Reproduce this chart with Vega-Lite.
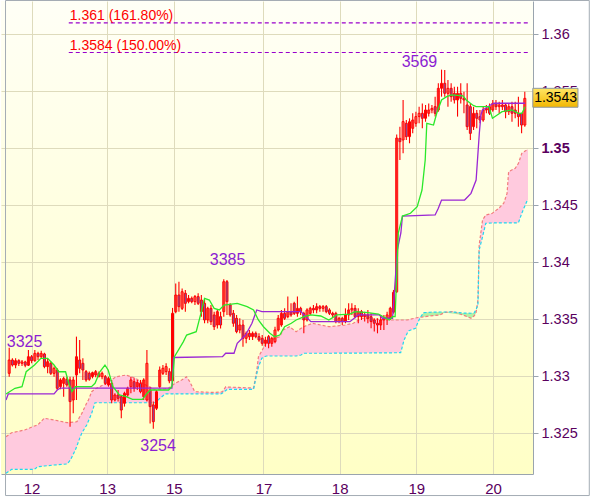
{
"$schema":"https://vega.github.io/schema/vega-lite/v6.json",
"width":532,"height":473,
"autosize":{"type":"none"},
"padding":{"left":1,"top":1,"right":67,"bottom":23},
"background":"#ffffff",
"config":{
 "view":{"stroke":null,"fill":{"gradient":"linear","x1":0,"y1":0,"x2":0,"y2":1,"stops":[{"offset":0,"color":"#fffff6"},{"offset":1,"color":"#ffffc6"}]}},
 "font":"Liberation Sans"
},
"datasets":{
"candles":[
{"i":1,"o":1.33026,"h":1.3325,"l":1.32997,"c":1.33143},
{"i":2,"o":1.33143,"h":1.33158,"l":1.33085,"c":1.33099},
{"i":3,"o":1.33099,"h":1.33158,"l":1.3307,"c":1.33137},
{"i":4,"o":1.33137,"h":1.33149,"l":1.33091,"c":1.33114},
{"i":5,"o":1.33114,"h":1.33143,"l":1.33091,"c":1.33126},
{"i":6,"o":1.33126,"h":1.33137,"l":1.33079,"c":1.33097},
{"i":7,"o":1.33097,"h":1.33231,"l":1.33091,"c":1.33172},
{"i":8,"o":1.33172,"h":1.33187,"l":1.33114,"c":1.33137},
{"i":9,"o":1.33137,"h":1.33231,"l":1.33128,"c":1.33201},
{"i":10,"o":1.33201,"h":1.33216,"l":1.33143,"c":1.33172},
{"i":11,"o":1.33172,"h":1.33225,"l":1.33158,"c":1.33201},
{"i":12,"o":1.33196,"h":1.33207,"l":1.3307,"c":1.33085},
{"i":13,"o":1.33085,"h":1.33158,"l":1.33026,"c":1.33128},
{"i":14,"o":1.33114,"h":1.33128,"l":1.33012,"c":1.33026},
{"i":15,"o":1.33026,"h":1.33085,"l":1.32997,"c":1.3307},
{"i":16,"o":1.33055,"h":1.3307,"l":1.3288,"c":1.32895},
{"i":17,"o":1.32909,"h":1.32982,"l":1.32886,"c":1.32968},
{"i":18,"o":1.32938,"h":1.32997,"l":1.32821,"c":1.32982},
{"i":19,"o":1.32974,"h":1.32997,"l":1.32909,"c":1.32924},
{"i":20,"o":1.32968,"h":1.32997,"l":1.32558,"c":1.32778},
{"i":21,"o":1.32792,"h":1.32997,"l":1.32675,"c":1.32968},
{"i":22,"o":1.33012,"h":1.33348,"l":1.32792,"c":1.33172},
{"i":23,"o":1.33143,"h":1.33318,"l":1.33026,"c":1.3307},
{"i":24,"o":1.33114,"h":1.33158,"l":1.32968,"c":1.33055},
{"i":25,"o":1.33041,"h":1.33055,"l":1.32953,"c":1.32968},
{"i":26,"o":1.33026,"h":1.33041,"l":1.32962,"c":1.32974},
{"i":27,"o":1.32997,"h":1.33041,"l":1.32982,"c":1.33032},
{"i":28,"o":1.33012,"h":1.33055,"l":1.32991,"c":1.33041},
{"i":29,"o":1.33026,"h":1.33041,"l":1.32991,"c":1.32997},
{"i":30,"o":1.32997,"h":1.33041,"l":1.32974,"c":1.33026},
{"i":31,"o":1.32997,"h":1.33012,"l":1.32924,"c":1.32938},
{"i":32,"o":1.32924,"h":1.32997,"l":1.32909,"c":1.32982},
{"i":33,"o":1.32938,"h":1.32968,"l":1.32763,"c":1.32792},
{"i":34,"o":1.32792,"h":1.32851,"l":1.32778,"c":1.32836},
{"i":35,"o":1.32836,"h":1.3288,"l":1.32778,"c":1.32807},
{"i":36,"o":1.32821,"h":1.32836,"l":1.32632,"c":1.32704},
{"i":37,"o":1.32763,"h":1.32865,"l":1.32734,"c":1.32851},
{"i":38,"o":1.32836,"h":1.32909,"l":1.32821,"c":1.32895},
{"i":39,"o":1.32909,"h":1.32997,"l":1.32851,"c":1.32968},
{"i":40,"o":1.32953,"h":1.32982,"l":1.32865,"c":1.32895},
{"i":41,"o":1.32909,"h":1.32968,"l":1.3288,"c":1.32945},
{"i":42,"o":1.32938,"h":1.32968,"l":1.32851,"c":1.32865},
{"i":43,"o":1.32821,"h":1.32982,"l":1.32792,"c":1.32968},
{"i":44,"o":1.32792,"h":1.33231,"l":1.32778,"c":1.33114},
{"i":45,"o":1.3288,"h":1.32909,"l":1.32587,"c":1.32734},
{"i":46,"o":1.32749,"h":1.32778,"l":1.3254,"c":1.32602},
{"i":47,"o":1.32719,"h":1.3288,"l":1.32704,"c":1.32865},
{"i":48,"o":1.32909,"h":1.33085,"l":1.32895,"c":1.33055},
{"i":49,"o":1.33026,"h":1.33099,"l":1.33012,"c":1.3307},
{"i":50,"o":1.33041,"h":1.33114,"l":1.33012,"c":1.33085},
{"i":51,"o":1.33041,"h":1.3307,"l":1.3294,"c":1.3296},
{"i":52,"o":1.3296,"h":1.336,"l":1.3293,"c":1.33553},
{"i":53,"o":1.33567,"h":1.33815,"l":1.33552,"c":1.33713},
{"i":54,"o":1.33713,"h":1.3383,"l":1.33567,"c":1.33611},
{"i":55,"o":1.33596,"h":1.33771,"l":1.33582,"c":1.33742},
{"i":56,"o":1.33728,"h":1.33757,"l":1.33567,"c":1.3364},
{"i":57,"o":1.33655,"h":1.33713,"l":1.3364,"c":1.33684},
{"i":58,"o":1.33684,"h":1.33699,"l":1.3364,"c":1.33655},
{"i":59,"o":1.33655,"h":1.33713,"l":1.33626,"c":1.33699},
{"i":60,"o":1.33699,"h":1.33728,"l":1.33626,"c":1.3364},
{"i":61,"o":1.33669,"h":1.33713,"l":1.33523,"c":1.33567},
{"i":62,"o":1.3364,"h":1.33684,"l":1.33465,"c":1.33494},
{"i":63,"o":1.33494,"h":1.33611,"l":1.33465,"c":1.33596},
{"i":64,"o":1.33596,"h":1.33626,"l":1.3345,"c":1.33479},
{"i":65,"o":1.33538,"h":1.33567,"l":1.33406,"c":1.33435},
{"i":66,"o":1.3345,"h":1.33582,"l":1.3342,"c":1.33567},
{"i":67,"o":1.33523,"h":1.33567,"l":1.3342,"c":1.3345},
{"i":68,"o":1.33567,"h":1.33852,"l":1.33523,"c":1.3383},
{"i":69,"o":1.3383,"h":1.33845,"l":1.33538,"c":1.33655},
{"i":70,"o":1.33626,"h":1.3364,"l":1.33523,"c":1.33538},
{"i":71,"o":1.33552,"h":1.33582,"l":1.33435,"c":1.33465},
{"i":72,"o":1.33509,"h":1.33538,"l":1.33377,"c":1.33392},
{"i":73,"o":1.33406,"h":1.33509,"l":1.33377,"c":1.3345},
{"i":74,"o":1.3345,"h":1.33494,"l":1.3326,"c":1.33333},
{"i":75,"o":1.33333,"h":1.33392,"l":1.33289,"c":1.33377},
{"i":76,"o":1.33377,"h":1.33406,"l":1.33318,"c":1.33348},
{"i":77,"o":1.33348,"h":1.33392,"l":1.33318,"c":1.33377},
{"i":78,"o":1.33377,"h":1.33392,"l":1.33333,"c":1.33348},
{"i":79,"o":1.33348,"h":1.33377,"l":1.33304,"c":1.33318},
{"i":80,"o":1.33333,"h":1.33362,"l":1.33267,"c":1.33289},
{"i":81,"o":1.33289,"h":1.33348,"l":1.3326,"c":1.33318},
{"i":82,"o":1.33348,"h":1.33362,"l":1.33245,"c":1.33289},
{"i":83,"o":1.33289,"h":1.33348,"l":1.3326,"c":1.33333},
{"i":84,"o":1.33304,"h":1.33435,"l":1.33289,"c":1.33406},
{"i":85,"o":1.33406,"h":1.33538,"l":1.33392,"c":1.33509},
{"i":86,"o":1.3345,"h":1.33582,"l":1.33435,"c":1.33552},
{"i":87,"o":1.33552,"h":1.33596,"l":1.33494,"c":1.33509},
{"i":88,"o":1.33523,"h":1.33699,"l":1.33509,"c":1.33567},
{"i":89,"o":1.33567,"h":1.3364,"l":1.33523,"c":1.33538},
{"i":90,"o":1.3364,"h":1.33655,"l":1.33538,"c":1.33552},
{"i":91,"o":1.33552,"h":1.33699,"l":1.33523,"c":1.33596},
{"i":92,"o":1.33596,"h":1.33611,"l":1.33538,"c":1.33567},
{"i":93,"o":1.33552,"h":1.33567,"l":1.33377,"c":1.33494},
{"i":94,"o":1.33494,"h":1.33596,"l":1.3348,"c":1.33582},
{"i":95,"o":1.33552,"h":1.33611,"l":1.33538,"c":1.33596},
{"i":96,"o":1.33596,"h":1.33626,"l":1.33552,"c":1.33582},
{"i":97,"o":1.33582,"h":1.3364,"l":1.33552,"c":1.33611},
{"i":98,"o":1.33611,"h":1.33626,"l":1.33567,"c":1.33596},
{"i":99,"o":1.33596,"h":1.33626,"l":1.33567,"c":1.33611},
{"i":100,"o":1.33611,"h":1.33626,"l":1.33552,"c":1.33567},
{"i":101,"o":1.33582,"h":1.33596,"l":1.33538,"c":1.33552},
{"i":102,"o":1.33552,"h":1.33567,"l":1.33509,"c":1.33538},
{"i":103,"o":1.33552,"h":1.33567,"l":1.33465,"c":1.3348},
{"i":104,"o":1.3348,"h":1.33523,"l":1.33465,"c":1.33509},
{"i":105,"o":1.33509,"h":1.33523,"l":1.3345,"c":1.3348},
{"i":106,"o":1.3348,"h":1.33596,"l":1.33465,"c":1.33538},
{"i":107,"o":1.33538,"h":1.3364,"l":1.33494,"c":1.33582},
{"i":108,"o":1.33582,"h":1.3364,"l":1.33538,"c":1.33596},
{"i":109,"o":1.33596,"h":1.33626,"l":1.33509,"c":1.33523},
{"i":110,"o":1.33523,"h":1.33596,"l":1.33465,"c":1.33567},
{"i":111,"o":1.33567,"h":1.33582,"l":1.33494,"c":1.33523},
{"i":112,"o":1.33523,"h":1.33567,"l":1.3348,"c":1.33538},
{"i":113,"o":1.33538,"h":1.33582,"l":1.33465,"c":1.33509},
{"i":114,"o":1.33523,"h":1.33552,"l":1.33421,"c":1.3348},
{"i":115,"o":1.33494,"h":1.33509,"l":1.33392,"c":1.33465},
{"i":116,"o":1.33465,"h":1.33509,"l":1.33377,"c":1.3345},
{"i":117,"o":1.3345,"h":1.33538,"l":1.33406,"c":1.33494},
{"i":118,"o":1.33494,"h":1.33538,"l":1.33406,"c":1.33509},
{"i":119,"o":1.33509,"h":1.33567,"l":1.3345,"c":1.33538},
{"i":120,"o":1.33509,"h":1.33611,"l":1.33494,"c":1.33597},
{"i":121,"o":1.33562,"h":1.33757,"l":1.3355,"c":1.33737},
{"i":122,"o":1.33742,"h":1.3512,"l":1.3373,"c":1.3509},
{"i":123,"o":1.35087,"h":1.3519,"l":1.34897,"c":1.35058},
{"i":124,"o":1.35073,"h":1.35424,"l":1.34956,"c":1.35234},
{"i":125,"o":1.35219,"h":1.35248,"l":1.35073,"c":1.35102},
{"i":126,"o":1.35102,"h":1.35263,"l":1.35044,"c":1.35233},
{"i":127,"o":1.35175,"h":1.35307,"l":1.35131,"c":1.35248},
{"i":128,"o":1.35219,"h":1.35321,"l":1.3519,"c":1.35278},
{"i":129,"o":1.35278,"h":1.35365,"l":1.35219,"c":1.35307},
{"i":130,"o":1.35307,"h":1.35394,"l":1.35175,"c":1.35263},
{"i":131,"o":1.35263,"h":1.3538,"l":1.35233,"c":1.35336},
{"i":132,"o":1.35307,"h":1.35394,"l":1.35278,"c":1.35336},
{"i":133,"o":1.35336,"h":1.3538,"l":1.35307,"c":1.3535},
{"i":134,"o":1.35365,"h":1.35453,"l":1.35278,"c":1.35307},
{"i":135,"o":1.35336,"h":1.3557,"l":1.35321,"c":1.35526},
{"i":136,"o":1.35526,"h":1.3569,"l":1.35453,"c":1.3557},
{"i":137,"o":1.3557,"h":1.35687,"l":1.35453,"c":1.35482},
{"i":138,"o":1.35482,"h":1.35599,"l":1.35365,"c":1.35526},
{"i":139,"o":1.35526,"h":1.3557,"l":1.35409,"c":1.35453},
{"i":140,"o":1.35482,"h":1.3554,"l":1.35394,"c":1.35424},
{"i":141,"o":1.35424,"h":1.3554,"l":1.35278,"c":1.35482},
{"i":142,"o":1.35482,"h":1.3557,"l":1.35394,"c":1.35438},
{"i":143,"o":1.35438,"h":1.35497,"l":1.35307,"c":1.35424},
{"i":144,"o":1.3538,"h":1.3557,"l":1.3516,"c":1.3519},
{"i":145,"o":1.35365,"h":1.35394,"l":1.35073,"c":1.35131},
{"i":146,"o":1.3519,"h":1.35365,"l":1.3516,"c":1.35307},
{"i":147,"o":1.35307,"h":1.35336,"l":1.35175,"c":1.35263},
{"i":148,"o":1.35278,"h":1.35336,"l":1.35219,"c":1.35248},
{"i":149,"o":1.35248,"h":1.35365,"l":1.35233,"c":1.35336},
{"i":150,"o":1.35336,"h":1.3538,"l":1.35307,"c":1.3535},
{"i":151,"o":1.35365,"h":1.35394,"l":1.35292,"c":1.35307},
{"i":152,"o":1.35336,"h":1.35424,"l":1.35321,"c":1.35394},
{"i":153,"o":1.35394,"h":1.35424,"l":1.35336,"c":1.35365},
{"i":154,"o":1.35365,"h":1.35409,"l":1.35307,"c":1.3538},
{"i":155,"o":1.3538,"h":1.35424,"l":1.35336,"c":1.35365},
{"i":156,"o":1.3538,"h":1.35394,"l":1.35263,"c":1.35321},
{"i":157,"o":1.35321,"h":1.35394,"l":1.35292,"c":1.35365},
{"i":158,"o":1.35365,"h":1.35409,"l":1.35233,"c":1.35307},
{"i":159,"o":1.35336,"h":1.35409,"l":1.35263,"c":1.35307},
{"i":160,"o":1.35307,"h":1.35453,"l":1.3519,"c":1.35278},
{"i":161,"o":1.35307,"h":1.35307,"l":1.35131,"c":1.35204},
{"i":162,"o":1.35204,"h":1.35497,"l":1.3519,"c":1.35438}
],
"tenkan":[
{"i":0,"p":1.32845},{"i":2.8,"p":1.32895},{"i":5,"p":1.32909},{"i":6.3,"p":1.3304},{"i":8.9,"p":1.33099},{"i":10.9,"p":1.33158},{"i":13,"p":1.33158},{"i":15,"p":1.33099},{"i":16.5,"p":1.3304},{"i":18.6,"p":1.3304},{"i":19.6,"p":1.32939},{"i":20.6,"p":1.32865},{"i":21.7,"p":1.32909},{"i":26.7,"p":1.32909},{"i":27.8,"p":1.32939},{"i":29.3,"p":1.3304},{"i":30.9,"p":1.33099},{"i":31.9,"p":1.33055},{"i":33.4,"p":1.32909},{"i":35.4,"p":1.32836},{"i":37.5,"p":1.32821},{"i":39.5,"p":1.32798},{"i":42.6,"p":1.32798},{"i":44.1,"p":1.32851},{"i":45.1,"p":1.3288},{"i":50.8,"p":1.3288},{"i":51.8,"p":1.32909},{"i":52.6,"p":1.33172},{"i":55.4,"p":1.33304},{"i":56.4,"p":1.33362},{"i":59.4,"p":1.33391},{"i":61,"p":1.33567},{"i":62,"p":1.33684},{"i":63.5,"p":1.33669},{"i":65,"p":1.33596},{"i":66.6,"p":1.33582},{"i":68.1,"p":1.33625},{"i":72.2,"p":1.3364},{"i":75.3,"p":1.33611},{"i":77.3,"p":1.33582},{"i":78.8,"p":1.33494},{"i":80.4,"p":1.33435},{"i":82.4,"p":1.33377},{"i":83.9,"p":1.33347},{"i":85.5,"p":1.33362},{"i":87,"p":1.33435},{"i":89.1,"p":1.33465},{"i":90.6,"p":1.33494},{"i":93.1,"p":1.33523},{"i":95.2,"p":1.33538},{"i":98.3,"p":1.33529},{"i":100.8,"p":1.33494},{"i":103.3,"p":1.33538},{"i":107.4,"p":1.33546},{"i":109,"p":1.33567},{"i":113,"p":1.33558},{"i":116.3,"p":1.33546},{"i":119.7,"p":1.33494},{"i":120.7,"p":1.33523},{"i":121.5,"p":1.33523},{"i":122.5,"p":1.34257},{"i":123.8,"p":1.34406},{"i":126.3,"p":1.3443},{"i":128.4,"p":1.34488},{"i":129.9,"p":1.34634},{"i":130.9,"p":1.34897},{"i":131.4,"p":1.35219},{"i":133.5,"p":1.35204},{"i":134.5,"p":1.35307},{"i":136,"p":1.35424},{"i":137.6,"p":1.35453},{"i":139.1,"p":1.35468},{"i":142.7,"p":1.35459},{"i":143.7,"p":1.35424},{"i":145.7,"p":1.3538},{"i":146.8,"p":1.35365},{"i":150.8,"p":1.35365},{"i":151.9,"p":1.35263},{"i":153.4,"p":1.35292},{"i":154.9,"p":1.35321},{"i":158,"p":1.35336},{"i":160,"p":1.35307},{"i":161.1,"p":1.35307},{"i":162.1,"p":1.35365}
],
"kijun":[
{"i":0,"p":1.32792},{"i":0.7,"p":1.32845},{"i":15,"p":1.32845},{"i":16,"p":1.3288},{"i":17,"p":1.32897},{"i":51.8,"p":1.32897},{"i":52.3,"p":1.33165},{"i":67.6,"p":1.33172},{"i":68.6,"p":1.33202},{"i":71.2,"p":1.33202},{"i":72.2,"p":1.33289},{"i":74.8,"p":1.33362},{"i":76.8,"p":1.33465},{"i":78.3,"p":1.33582},{"i":79.9,"p":1.33567},{"i":92.1,"p":1.33567},{"i":93.1,"p":1.33538},{"i":95.2,"p":1.33479},{"i":107.4,"p":1.33479},{"i":110,"p":1.33538},{"i":116.6,"p":1.33538},{"i":117.6,"p":1.33509},{"i":120.7,"p":1.33509},{"i":122.2,"p":1.34108},{"i":123.3,"p":1.34257},{"i":123.8,"p":1.34406},{"i":134,"p":1.34415},{"i":135,"p":1.34474},{"i":136,"p":1.34546},{"i":143.2,"p":1.34546},{"i":145.2,"p":1.34605},{"i":146.8,"p":1.34722},{"i":147.8,"p":1.35132},{"i":148.3,"p":1.35292},{"i":148.8,"p":1.35336},{"i":149.8,"p":1.35351},{"i":151.3,"p":1.3538},{"i":152.4,"p":1.35395},{"i":162.1,"p":1.35395}
],
"kumo":[
{"i":0,"a":1.3247,"b":1.32149},{"i":1.75,"a":1.32505,"b":1.32184},{"i":5.82,"a":1.32529,"b":1.32184},{"i":8.88,"a":1.32564,"b":1.32184},{"i":9.9,"a":1.32573,"b":1.32207},{"i":11.95,"a":1.32632,"b":1.32213},{"i":15.01,"a":1.32617,"b":1.32222},{"i":19.09,"a":1.32593,"b":1.32231},{"i":20.13,"a":1.32595,"b":1.32266},{"i":21.66,"a":1.32599,"b":1.32354},{"i":22.15,"a":1.32602,"b":1.32389},{"i":23.19,"a":1.32652,"b":1.3247},{"i":23.68,"a":1.32675,"b":1.32503},{"i":25.21,"a":1.32766,"b":1.32573},{"i":25.74,"a":1.32792,"b":1.32608},{"i":26.75,"a":1.32865,"b":1.32675},{"i":27.79,"a":1.32889,"b":1.32768},{"i":29.32,"a":1.32909,"b":1.32768},{"i":31.34,"a":1.32939,"b":1.32768},{"i":34.41,"a":1.32996,"b":1.32768},{"i":37.47,"a":1.33011,"b":1.32768},{"i":40.53,"a":1.32982,"b":1.32768},{"i":42.59,"a":1.32939,"b":1.32768},{"i":46.66,"a":1.3288,"b":1.32768},{"i":47.7,"a":1.32884,"b":1.32798},{"i":49.72,"a":1.32889,"b":1.32845},{"i":50.77,"a":1.32895,"b":1.32845},{"i":52.79,"a":1.32939,"b":1.32845},{"i":54.84,"a":1.32967,"b":1.32845},{"i":56.37,"a":1.32996,"b":1.32845},{"i":57.38,"a":1.32953,"b":1.32845},{"i":58.92,"a":1.32865,"b":1.32845},{"i":65.04,"a":1.32858,"b":1.32845},{"i":67.1,"a":1.32862,"b":1.32845},{"i":67.62,"a":1.32865,"b":1.32854},{"i":68.63,"a":1.32909,"b":1.32875},{"i":69.15,"a":1.32906,"b":1.32886},{"i":77.3,"a":1.32897,"b":1.32886},{"i":78.34,"a":1.33055,"b":1.33026},{"i":78.83,"a":1.33172,"b":1.33082},{"i":79.87,"a":1.33222,"b":1.33158},{"i":80.88,"a":1.33275,"b":1.33174},{"i":81.4,"a":1.33292,"b":1.33178},{"i":83.95,"a":1.33333,"b":1.33178},{"i":85.48,"a":1.33347,"b":1.33178},{"i":86.49,"a":1.33406,"b":1.33178},{"i":88.54,"a":1.33435,"b":1.33178},{"i":90.59,"a":1.33391,"b":1.33178},{"i":92.13,"a":1.33421,"b":1.33187},{"i":93.14,"a":1.33437,"b":1.33202},{"i":95.68,"a":1.33465,"b":1.33202},{"i":98.25,"a":1.3345,"b":1.33202},{"i":100.8,"a":1.33435,"b":1.33202},{"i":105.91,"a":1.3345,"b":1.33204},{"i":108.46,"a":1.33465,"b":1.33204},{"i":111,"a":1.33509,"b":1.33204},{"i":119.18,"a":1.33494,"b":1.33206},{"i":123.25,"a":1.33494,"b":1.33207},{"i":124.3,"a":1.33494,"b":1.33318},{"i":125.31,"a":1.33494,"b":1.3338},{"i":125.83,"a":1.33498,"b":1.334},{"i":127.85,"a":1.33511,"b":1.33421},{"i":128.68,"a":1.33516,"b":1.33476},{"i":129.38,"a":1.33518,"b":1.33518},{"i":130.42,"a":1.33522,"b":1.33558},{"i":132.44,"a":1.33529,"b":1.33562},{"i":135.51,"a":1.33538,"b":1.33564},{"i":136.95,"a":1.3356,"b":1.33564},{"i":139.61,"a":1.33568,"b":1.33564},{"i":142.67,"a":1.33538,"b":1.33555},{"i":145.22,"a":1.33509,"b":1.33553},{"i":146.14,"a":1.33529,"b":1.33555},{"i":146.75,"a":1.33553,"b":1.33582},{"i":147.37,"a":1.33669,"b":1.33625},{"i":147.76,"a":1.34152,"b":1.34108},{"i":148.81,"a":1.34371,"b":1.34225},{"i":149.82,"a":1.34415,"b":1.34342},{"i":151.87,"a":1.3443,"b":1.34345},{"i":153.89,"a":1.34474,"b":1.34345},{"i":155.42,"a":1.34518,"b":1.34345},{"i":156.46,"a":1.34605,"b":1.34345},{"i":156.95,"a":1.34795,"b":1.34345},{"i":159.01,"a":1.34825,"b":1.34345},{"i":160.02,"a":1.34868,"b":1.34347},{"i":161.06,"a":1.34956,"b":1.3443},{"i":162.59,"a":1.34985,"b":1.34532},{"i":163,"a":1.34994,"b":1.34546}
],
"fibo":[
{"from":19.6,"level":1.361,"label":"1.361 (161.80%)"},
{"from":19.6,"level":1.3584,"label":"1.3584 (150.00%)"}
],
"swings":[
{"i":5.8,"p":1.3326,"label":"3325"},
{"i":69.2,"p":1.33976,"label":"3385"},
{"i":47.5,"p":1.32347,"label":"3254"},
{"i":129.1,"p":1.35716,"label":"3569"}
]
},
"layer":[
{"data":{"name":"kumo"},
 "mark":{"type":"area","fill":"#ffcade","opacity":1},
 "encoding":{
  "x":{"field":"i","type":"quantitative","scale":{"domain":[0,163],"nice":false,"zero":false},
   "axis":{"title":null,"values":[8,31.6,52.4,80.4,104.2,128.1,152.1],
    "labelExpr":"datum.value < 20 ? '12' : datum.value < 40 ? '13' : datum.value < 60 ? '15' : datum.value < 90 ? '17' : datum.value < 110 ? '18' : datum.value < 140 ? '19' : '20'",
    "grid":true,"gridColor":"#dedbbc","ticks":false,"domainColor":"#9aa4ae","labelColor":"#5a005e","labelFontSize":15,"labelPadding":7,"labelFlush":false,"labelOverlap":false}},
  "y":{"field":"a","type":"quantitative","scale":{"domain":[1.32143,1.36292],"nice":false,"zero":false},
   "axis":{"title":null,"orient":"right","values":[1.325,1.33,1.335,1.34,1.345,1.35,1.355,1.36],"format":".3~f",
    "grid":true,"gridColor":"#dedbbc","tickSize":5,"tickColor":"#9aa4ae","domainColor":"#9aa4ae","labelColor":"#5a005e","labelFontSize":14.5,"labelPadding":3,"labelOverlap":false,"labelFlush":false,
    "labelFontWeight":{"condition":{"test":"abs(datum.value-1.35)<0.0001","value":"bold"},"value":"normal"}}},
  "y2":{"field":"b"}
 }},
{"data":{"name":"kumo"},
 "transform":[{"filter":"datum.b >= datum.a"}],
 "mark":{"type":"area","fill":"#b2f2a4"},
 "encoding":{"x":{"field":"i","type":"quantitative"},"y":{"field":"a","type":"quantitative"},"y2":{"field":"b"}}},
{"data":{"name":"kumo"},
 "mark":{"type":"line","stroke":"#f27c7c","strokeWidth":1.2,"strokeDash":[3,2]},
 "encoding":{"x":{"field":"i","type":"quantitative"},"y":{"field":"a","type":"quantitative"}}},
{"data":{"name":"kumo"},
 "mark":{"type":"line","stroke":"#1ed8f0","strokeWidth":1.2,"strokeDash":[3,2]},
 "encoding":{"x":{"field":"i","type":"quantitative"},"y":{"field":"b","type":"quantitative"}}},
{"data":{"name":"candles"},
 "mark":{"type":"rule","stroke":"#ff0000","strokeWidth":1.1},
 "encoding":{"x":{"field":"i","type":"quantitative"},"y":{"field":"l","type":"quantitative"},"y2":{"field":"h"}}},
{"data":{"name":"candles"},
 "mark":{"type":"bar","size":2,"stroke":"#ff0000","strokeWidth":1},
 "encoding":{"x":{"field":"i","type":"quantitative"},"y":{"field":"o","type":"quantitative"},"y2":{"field":"c"},
  "fill":{"condition":{"test":"datum.c < datum.o","value":"#7e52a8"},"value":"transparent"}}},
{"data":{"name":"kijun"},
 "mark":{"type":"line","stroke":"#9a26d4","strokeWidth":1.3},
 "encoding":{"x":{"field":"i","type":"quantitative"},"y":{"field":"p","type":"quantitative"}}},
{"data":{"name":"tenkan"},
 "mark":{"type":"line","stroke":"#2ae82a","strokeWidth":1.3},
 "encoding":{"x":{"field":"i","type":"quantitative"},"y":{"field":"p","type":"quantitative"}}},
{"data":{"name":"fibo"},
 "mark":{"type":"rule","stroke":"#9900cc","strokeWidth":1.1,"strokeDash":[4,3]},
 "encoding":{"x":{"field":"from","type":"quantitative"},"x2":{"datum":163},"y":{"field":"level","type":"quantitative"}}},
{"data":{"name":"fibo"},
 "mark":{"type":"text","color":"#ff0000","fontSize":14,"align":"left","baseline":"alphabetic","dx":1,"dy":-3},
 "encoding":{"x":{"field":"from","type":"quantitative"},"y":{"field":"level","type":"quantitative"},"text":{"field":"label"}}},
{"data":{"name":"swings"},
 "mark":{"type":"text","color":"#8c1ed2","fontSize":16,"align":"center","baseline":"alphabetic"},
 "encoding":{"x":{"field":"i","type":"quantitative"},"y":{"field":"p","type":"quantitative"},"text":{"field":"label"}}},
{"data":{"values":[{}]},
 "mark":{"type":"rect","stroke":"#8c98a4","strokeWidth":1,"fill":{"gradient":"linear","x1":0,"y1":0,"x2":0,"y2":1,"stops":[{"offset":0,"color":"#ffe665"},{"offset":1,"color":"#f2b600"}]}},
 "encoding":{"x":{"datum":164.5,"type":"quantitative"},"x2":{"datum":178.6},"y":{"datum":1.35526,"type":"quantitative"},"y2":{"datum":1.3536}}},
{"data":{"values":[{}]},
 "mark":{"type":"text","color":"#000000","fontSize":14,"align":"center","baseline":"middle","text":"1.3543"},
 "encoding":{"x":{"datum":171.6,"type":"quantitative"},"y":{"datum":1.35441,"type":"quantitative"}}},
{"data":{"values":[{}]},
 "mark":{"type":"rect","fill":"transparent","stroke":"#a4acb4","strokeWidth":1},
 "encoding":{"x":{"datum":-0.15,"type":"quantitative"},"x2":{"datum":182.14},"y":{"datum":1.362965,"type":"quantitative"},"y2":{"datum":1.31954}}}
]
}
